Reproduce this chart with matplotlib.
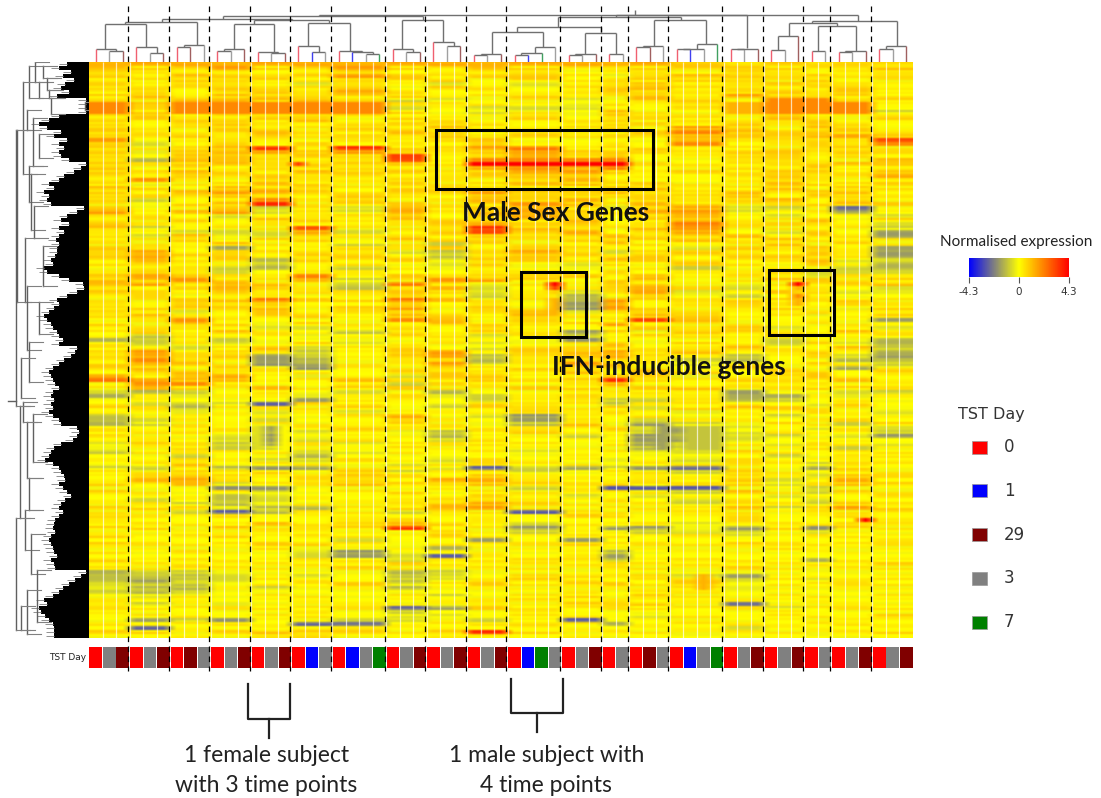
import numpy as np
import matplotlib
matplotlib.use('Agg')
import matplotlib.pyplot as plt
from matplotlib.colors import LinearSegmentedColormap
from matplotlib.patches import Rectangle

# time point of each array (column) in the strip under the heatmap
dias = list('RGD' 'RGD' 'RDG' 'RGD' 'RGD' 'RBG' 'RBGV' 'RGD' 'RGD' 'RGD' 'RBVG' 'RGD' 'RG' 'RDG' 'RBGV' 'RGD' 'RGD' 'RG' 'RGD' 'RGD')
tamano_grupos = [3, 3, 3, 3, 3, 3, 4, 3, 3, 3, 4, 3, 2, 3, 4, 3, 3, 2, 3, 3]
colores_dia = {'R': '#ff0000', 'B': '#0000ff', 'D': '#800000', 'G': '#808080', 'V': '#008000'}
leyenda_dias = ['0', '1', '29', '3', '7']
leyenda_codigos = ['R', 'B', 'D', 'G', 'V']

# expression level per letter
niveles = {'b': -2.6, 'h': -1.6, 'g': -1.0, 'j': -0.55, 'k': 0.1, 'y': 0.2, 'l': 0.45,
           'm': 0.75, 'n': 1.3, 'o': 2.0, 'r': 3.2, 'R': 4.3}
# fine stripes inside a band, one digit per band
ajuste_veta = {'0': -0.3, '1': -0.1, '2': 0.0, '3': 0.2, '4': 0.45}

# one string per gene band, one letter per subject group
bandas = [
    'nnnnnnnnnnnnnnmlmlml', 'mlmnlmnllmllklmlllkm', 'mlllklmklllkllkmlyll', 'lkmlllnmklmkjlmlllkl',
    'lylmlkmllklkmllmklyk', 'mkllkjlkjkjklmklmllk', 'lmlmmlmkmlklmnllllml', 'ylklmlnlkkklmlllmlmk',
    'lmlmlmlllkllkmlnlmlk', 'mkmnmmmjjkkjkmlknnml', 'nmnnnnnlkkkjykkjnonk', 'omonnnnjkjjjkkljnonk',
    'nlnnnnnlkjkkmkkgnonj', 'lmlllmlklklkmlmkmlkl', 'mllmlmklyklkmyklmlkl', 'lklmlklmllkylmkmlmlk',
    'llkllkllmklylknlkmly', 'lkylmlkmlkkkylomlmlk', 'lylklklklylklymmlmnl', 'oklmlkmlmnkklknmmmmr',
    'mjkmkmklkmyklkoklmlo', 'lkmmrlrlmnolyllkkmlk', 'ljlmnlnlklnlllklmkll', 'lkmmlmlrklnlmkylmklk',
    'mgnnmlmrlmolokkmmlkn', 'lklmklllkRRRRykkklml', 'mklkmlllknonoykllmkl', 'llmlkmlmklnnlylkmlkm',
    'lkmlmllklmmmkkklmlln', 'lolkmllmlkmnlyklmlkl', 'ljklmlklklmmllkkmlll', 'mlkmlmklmklklmlkmkly',
    'lkmnnlkmlnmlmlkmllmk', 'lmlmlkmlkmmllmlmkmll', 'mjklolmklnmnkmlmnkmk', 'kjlmrkllklnmkmlkklml',
    'mkkmjljnlmnljmnjjkbk', 'nkmnjkjnkmnlknnjkkhk', 'llkjkllmkmnmklnkjkkj', 'lklkmllmlmlmklmlkmkl',
    'mlkklkklmnmmklolmlkj', 'mjlkkrkkmrmmkmokklkj', 'lkjjjnjkmrmnklnkjmkh', 'kjmjjlklklllmllmklkh',
    'lklkllkmlmklmlmlmklk', 'kklmkljkjlklmylkmklk', 'mlkhkkllmkmlkkjmlmkh', 'mnkmllljgmnljlmlkmlh',
    'lnllkllkgkmlkmklmlkh', 'kmklhlkljllkmlkkkmjg', 'lmkkjklkjmkjlkmlkmkg', 'klmjgljlklkkkljklkjg',
    'lmljkllkkllkmkllmjjj', 'mnmlkokmlllmkmklkjlk', 'mmnlkmjknnljlmjkmlkl', 'mnlmmkgoljkkllkjkllm',
    'lkmnmlglnjklmnmjklkj', 'mlkmkllmljkjlnjkmljj', 'lmkllklmljlgkmkjklkk', 'kklmollomkkhnlkllklk',
    'lkmlmkkmklkhnklmlkml', 'klmlmklnklkhnlkklkjl', 'lkjkmkllklmjlllkklkk', 'lmkkllkmlkmkkmlkkjkl',
    'klolkkkonkmklrnkklkh', 'lkmlklklmlmlnlkklkkl', 'kllkjjklklkkkmlmjkkj', 'klkmkkgkklkhljmlkkmk',
    'kgkkkjklkjkgklkkljkk', 'gjljkkkkllkhlkkljlkg', 'kjkjkljlkjkkmklkjljg', 'kkjkmjklkjlmlklmkkmg',
    'lnklkgklnklmnkmkklkh', 'lnlmhgkmnglmnlkgkljh', 'lomlhgklmglmmljgkkgg', 'lnmkhhklnjlnmljkklkj',
    'lmklkhkkmklmlkklkkhk', 'klmlkkklllkmkmlkllkl', 'nkmnkjkjmmkkmmjklmkk', 'onmmkkmlklllrlkllkmk',
    'koolkkljmlklnkklllkl', 'kmlkmkllkkllklmkkllk', 'jgjklkjkgkkllllhkkjj', 'hkjkkjkljgklkkkhhkjk',
    'klkkkhllkjlljjlgjklk', 'kjgjblkkjllkglkkkjlk', 'lkgkkkljjlkklglmlkkj', 'kkjkjkjkkklklkjkklkj',
    'gklkkklnkjhlklkkjkkk', 'gjlkjkkmlkhlkjllklmk', 'gjklkkllkkgmkhjklkjl', 'kkkkhkllkklkljhjkjkj',
    'kklkhjkjgklkkghjkkkg', 'lkkjhkkkgkkjkhgjjkjh', 'klkjhjlkjlkkkhhjkkkk', 'jlkghkjkkkkjkhgkjkkj',
    'kkljjkllklkkkgjkkljk', 'gklkkjjkkkjkkjjlkkkk', 'kkjkkgkkkkklkkkkjkll', 'kklkjjlkjlkkjkjlkkkk',
    'kkmkkkkjkmkkkkkmkjmk', 'jjkghhkljbjhjhbkkhlk', 'kkmklkljlkjkkkjlkkkk', 'klmlklmlkmkkkkklkjml',
    'knnlkllknnlkklkmjknk', 'lkmjkkmlkmlklkkljkml', 'kkkhhkkklkjlbbbkkjkk', 'lkkkjkklkkklkkjmkjlk',
    'kkkgjkkkkmkjkjkkjkkl', 'kjkgjkkllllklkjlkjkk', 'kkjgjkkkmnlkkkjlkjmk', 'llmjggklnnkkkklmjmnl',
    'kkgbgkkjkkbkkkkkkkkl', 'llklkkkkkkkmlkklkklk', 'lkkkkklmklkkkkkmkkkl', 'kkkkmklmlkgkkkjkkklk',
    'llkmkmlrlkhlhhkhlhlk', 'kkkklkkklkjkkjjjkjkk', 'lkklkkkklkkkkkkjkkkk', 'kkkkkkjkkhkhkkkkkkkl',
    'lkkkllkjkkklkkklkkkk', 'kkkklkkkgkklkkkkllkk', 'lklkkjhkkkkkgkkkkkkk', 'kkkkkjhjblklhkkkkkkk',
    'lkkkkkkjkklkgkkkkhkk', 'kkkkkkklkkkklkkkkkkl', 'kklkkklkkkkkkkklkkkk', 'gjjkkkkgjkkklkkkkkkk',
    'gggjkjkgjklllljhkkkk', 'ghgjkkkgjllkkkljkjlk', 'gggjkkljklkllkljkkkk', 'jggkjkkgkkkkkkljkkkk',
    'jgjkkkkkkkklkllkkkkk', 'kjkkkkkkjkklklkkkkkk', 'lkkkkkkkkllklkklkkkk', 'kjkjkkkkkkkmlmkbkkkk',
    'kkkkkkkbhlkkkkkkjkkk', 'lkkkklkjkklkkkkklkkk', 'kkkkkkkjjkkkkjkkkkkl', 'khjhkkjjkjkbkkkkkklk',
    'kkkkkbbkkklkhkkkkkkk', 'kbkkkklkkkkkkkkjkkkk', 'llklmmlkmrlkkkkkkkkl', 'kklklmkkllklkkkkkkkk',
]
vetas = [
    '230412310243102341302143023412014320341230142031423012431204132304213041230421342013240312041234021304213402130243120341203142301243102341204',
    '142302134021430124301432041230341204213024130421340213042310243120341024312042130423014231024312042310432104213402134012430213402143021340213',
    '301243021432014203412032140321403124031420314023142013402314203410234102431204321403124301423014320142031420314032140231402134023410243012431',
]

# single array features: first band, last band, first column, last column, level
manchas = [
    (10, 12, 0, 2, 'o'), (10, 12, 6, 21, 'o'), (10, 12, 47, 49, 'n'), (9, 12, 50, 52, 'o'), (9, 12, 53, 54, 'o'), (10, 12, 55, 57, 'o'),
    (55, 55, 34, 34, 'R'), (56, 56, 34, 34, 'r'), (57, 57, 34, 34, 'm'), (59, 62, 34, 34, 'n'),
    (55, 55, 52, 52, 'R'), (56, 56, 52, 52, 'n'), (57, 57, 52, 52, 'm'), (58, 58, 52, 52, 'o'), (59, 60, 52, 52, 'n'),
    (25, 25, 15, 15, 'r'), (114, 114, 57, 57, 'R'), (91, 96, 12, 12, 'j'), (91, 96, 14, 14, 'k'),
    (128, 131, 45, 45, 'n'), (91, 96, 42, 42, 'h'), (91, 96, 44, 46, 'g'), (25, 25, 28, 39, 'R'), (24, 24, 28, 39, 'o'),
]

# top tree: left x, left height, right x, right height, join height (column units / px height)
arbol_arriba = [
    (1.5, 0, 2.5, 0, 11), (0.5, 0, 2, 11, 13), (4.5, 0, 5.5, 0, 9), (3.5, 0, 5, 9, 15), (6.5, 0, 7.5, 0, 15),
    (7, 15, 8.5, 0, 17), (9.5, 0, 10.5, 0, 11), (10, 11, 11.5, 0, 13), (13.5, 0, 14.5, 0, 9.5), (12.5, 0, 14, 9.5, 10),
    (16.5, 0, 17.5, 0, 10.5), (15.5, 0, 17, 10.5, 16), (20.5, 0, 21.5, 0, 8), (19.5, 0, 21, 8, 10.5), (18.5, 0, 20.2, 10.5, 11),
    (23.5, 0, 24.5, 0, 10), (22.5, 0, 24, 10, 13), (26.5, 0, 27.5, 0, 16), (25.5, 0, 27, 16, 20),
    (28.5, 0, 29.5, 0, 7.5), (29, 7.5, 30.5, 0, 8), (31.5, 0, 32.5, 0, 7), (32, 7, 33.5, 0, 9), (33, 9, 34.5, 0, 15),
    (35.5, 0, 36.5, 0, 7.5), (36, 7.5, 37.5, 0, 8), (38.5, 0, 39.5, 0, 8), (40.5, 0, 41.5, 0, 15), (41, 15, 42.5, 0, 16),
    (43.5, 0, 44.5, 0, 13), (44, 13, 45.5, 0, 13.5), (45, 13.5, 46.5, 0, 18), (47.5, 0, 48.5, 0, 13), (48, 13, 49.5, 0, 13.5),
    (50.5, 0, 51.5, 0, 12.5), (51, 12.5, 52.5, 0, 26), (53.5, 0, 54.5, 0, 11), (55.5, 0, 56.5, 0, 10), (56, 10, 57.5, 0, 11),
    (58.5, 0, 59.5, 0, 13), (59, 13, 60.5, 0, 16),
    (1.15, 13, 4.2, 15, 38), (2.7, 38, 8, 17, 40), (10.7, 13, 13.7, 10, 38.5), (16.2, 16, 19.3, 11, 39.5),
    (12.2, 38.5, 17.8, 39.5, 42), (5.4, 40, 15, 42, 43.5), (23.2, 13, 26.2, 20, 42), (9.9, 43.5, 24.7, 42, 46.5),
    (29.8, 8, 33.6, 15, 30), (36.7, 8, 39, 8, 29.5), (31.7, 30, 37.9, 29.5, 35), (41.8, 16, 45.7, 18, 42),
    (34.7, 35, 43.8, 42, 45.5), (39, 45.5, 48.7, 14, 47), (54, 11, 56.8, 11, 36), (51.8, 26, 55.4, 36, 39.5),
    (53.5, 39.5, 59.8, 16, 41), (43.9, 47, 56.9, 41, 47.5), (17, 46.5, 43.9, 47.5, 47.5), (40.4, 47.5, 40.4, 52, 52),
]

# left tree: length of the black leaf block per band
hojas = [
    22, 30, 18, 26, 15, 24, 28, 20, 32, 3, 3, 3, 3, 30, 40, 50, 42, 28, 35, 22, 30, 25, 30, 28, 20,
    3, 8, 15, 25, 30, 40, 35, 45, 40, 42, 38, 5, 12, 22, 28, 20, 30, 25, 30, 33, 30, 32, 32, 34,
    38, 36, 45, 42, 30, 20, 6, 5, 12, 22, 32, 30, 35, 40, 45, 42, 38, 36, 32, 30, 26, 30, 12, 14,
    18, 25, 30, 36, 40, 38, 36, 34, 30, 36, 38, 35, 38, 36, 40, 36, 30, 28, 12, 10, 12, 16, 28, 35,
    38, 40, 44, 36, 30, 28, 25, 24, 30, 26, 22, 18, 24, 28, 30, 26, 30, 34, 35, 36, 34, 38, 40, 38,
    36, 35, 32, 38, 35, 34, 3, 8, 14, 20, 26, 30, 36, 45, 42, 50, 48, 44, 40, 36, 35, 35, 35,
]
# left tree brackets: first band, last band, distance from the heatmap
ramas_izq = [
    (1, 9, 60), (0, 5, 54), (5, 9, 50), (1, 4, 46), (4, 7, 42), (7, 9, 40), (9, 13, 38), (10, 12, 4),
    (12, 17, 62), (14, 26, 56), (18, 24, 50), (5, 28, 66), (17, 60, 72), (26, 35, 60), (28, 42, 58), (36, 44, 55),
    (44, 60, 64), (46, 56, 46), (56, 72, 62), (60, 68, 50), (70, 80, 60), (74, 84, 68), (85, 90, 66), (88, 100, 56),
    (86, 114, 69), (90, 104, 62), (104, 112, 60), (112, 122, 64), (114, 142, 73), (118, 128, 58), (127, 140, 52),
    (132, 143, 62), (136, 142, 68), (17, 86, 73),
]
raiz_fila = 84.7
barra_niveles = [-4.3, 0, 4.3]


def px_ejes(x0, y0, x1, y1):
    return fig.add_axes([x0 / 1101, 1 - y1 / 798, (x1 - x0) / 1101, (y1 - y0) / 798])


n_bandas = len(bandas)
n_grupos = len(tamano_grupos)
valores = np.zeros((n_bandas * 2, n_grupos))
for i, f in enumerate(bandas):
    for g, c in enumerate(f):
        v = niveles[c]
        a = vetas[(g + 1) % 3]
        b = vetas[g % 3]
        valores[2 * i, g] = v + ajuste_veta[a[i % len(a)]]
        valores[2 * i + 1, g] = v + ajuste_veta[b[i % len(b)]]
columnas = np.repeat(np.arange(n_grupos), tamano_grupos)
matriz = valores[:, columnas]
for f0, f1, c0, c1, v in manchas:
    matriz[2 * f0:2 * f1 + 2, c0:c1 + 1] = niveles[v]
n_filas, n_cols = matriz.shape
cortes = np.cumsum(tamano_grupos)[:-1]

cmap = LinearSegmentedColormap.from_list('expr', [(0, '#0000ff'), (0.25, '#808080'), (0.5, '#ffff00'), (0.75, '#ff8000'), (1, '#ff0000')])

fig = plt.figure(figsize=(11.01, 7.98), dpi=100)

ax = px_ejes(89, 62, 913, 638)
im = ax.imshow(matriz, cmap=cmap, vmin=-4.3, vmax=4.3, aspect='auto', interpolation='bilinear',
               extent=[0, n_cols, n_filas, 0])
ax.vlines(np.arange(1, n_cols), 0, n_filas, color='white', lw=0.9, alpha=0.7)
ax.axis('off')

# strip
tira = px_ejes(89, 647, 913, 668)
tira.bar(np.arange(n_cols) + 0.5, 1, width=0.93, color=[colores_dia[d] for d in dias])
tira.set_xlim(0, n_cols)
tira.set_ylim(0, 1)
tira.axis('off')

# top tree
arriba = px_ejes(89, 6, 913, 62)
arriba.set_xlim(0, n_cols)
arriba.set_ylim(0, 56)
arriba.axis('off')
for xi, hi, xd, hd, h in arbol_arriba:
    arriba.plot([xi, xd], [h, h], color='#707070', lw=1, solid_capstyle='butt')
    for x, y in ((xi, hi), (xd, hd)):
        col = '#707070'
        if y == 0:
            col = {'R': '#f06070', 'B': '#4040f0', 'D': '#a06060', 'G': '#a0a0a0', 'V': '#40a060'}[dias[int(x)]]
        arriba.plot([x, x], [y, h], color=col, lw=1, solid_capstyle='butt')

# left tree
izq = px_ejes(0, 62, 89, 638)
izq.set_xlim(89, 0)
izq.set_ylim(n_bandas, 0)
izq.axis('off')
izq.barh(np.arange(n_bandas) + 0.5, hojas, height=1.0, color='black')
izq.hlines(np.arange(n_bandas) + 0.5, hojas, np.array(hojas) + 8, color='#909090', lw=0.7)
for f0, f1, d in ramas_izq:
    izq.plot([d, d], [f0, f1], color='#606060', lw=1)
    for f in (f0, f1):
        izq.plot([d, d - 14], [f, f], color='#808080', lw=0.8)
izq.plot([81, 73], [raiz_fila, raiz_fila], color='#606060', lw=1)

# colour bar
cax = px_ejes(969, 258, 1069, 277)
cb = fig.colorbar(im, cax=cax, orientation='horizontal', ticks=barra_niveles)
cb.outline.set_visible(False)
cb.ax.set_xticklabels([str(v) if v else '0' for v in barra_niveles], fontsize=7.5, color='#333333')
cb.ax.tick_params(length=4, width=0.8, pad=3, color='#555555')

# overlay in picture pixels for annotations
capa = fig.add_axes([0, 0, 1, 1], facecolor='none')
capa.set_xlim(0, 1101)
capa.set_ylim(798, 0)
capa.axis('off')

x_cortes = 89 + cortes * 824 / n_cols - 1.5
capa.vlines(x_cortes, 6, 671, color='black', lw=0.9, linestyles=(0, (4.5, 3.5)))

for x0, y0, x1, y1 in [(436, 130, 653, 189), (521, 272, 586, 337), (769, 270, 834, 335)]:
    capa.add_patch(Rectangle((x0, y0), x1 - x0, y1 - y0, fill=False, ec='black', lw=2.2))

fuente = ['Lato', 'DejaVu Sans']
capa.text(556, 213, 'Male Sex Genes', family=fuente, fontweight='bold', fontsize=19, ha='center', va='center', color='#111111')
capa.text(669, 367, 'IFN-inducible genes', family=fuente, fontweight='bold', fontsize=19, ha='center', va='center', color='#111111')
capa.text(1016, 242, 'Normalised expression', family=fuente, fontsize=11, ha='center', va='center', color='#222222')

capa.text(991, 415, 'TST Day', fontsize=11.5, ha='center', va='center', color='#333333')
for i, (d, c) in enumerate(zip(leyenda_dias, leyenda_codigos)):
    y = 447 + i * 43.8
    capa.add_patch(Rectangle((972, y - 6.5), 15, 13, fc=colores_dia[c], ec='#999999', lw=0.5))
    capa.text(1004, y, d, fontsize=12, ha='left', va='center', color='#333333')

capa.text(86, 657, 'TST Day', fontsize=6.5, ha='right', va='center', color='#222222')

for xa, xb, y0, y1, y2 in [(247.5, 290, 684, 719, 738), (511, 563, 679, 713, 732)]:
    xm = (xa + xb) / 2
    capa.plot([xa, xa, xb, xb], [y0, y1, y1, y0], color='#222222', lw=1.6)
    capa.plot([xm, xm], [y1, y2], color='#222222', lw=1.6)

capa.text(267, 755, '1 female subject', family=fuente, fontsize=16.5, ha='center', va='center', color='#222222')
capa.text(266, 786, 'with 3 time points', family=fuente, fontsize=16.5, ha='center', va='center', color='#222222')
capa.text(547, 755, '1 male subject with', family=fuente, fontsize=16.5, ha='center', va='center', color='#222222')
capa.text(546, 786, '4 time points', family=fuente, fontsize=16.5, ha='center', va='center', color='#222222')

fig.savefig('out.png', dpi=100)
plt.close()
